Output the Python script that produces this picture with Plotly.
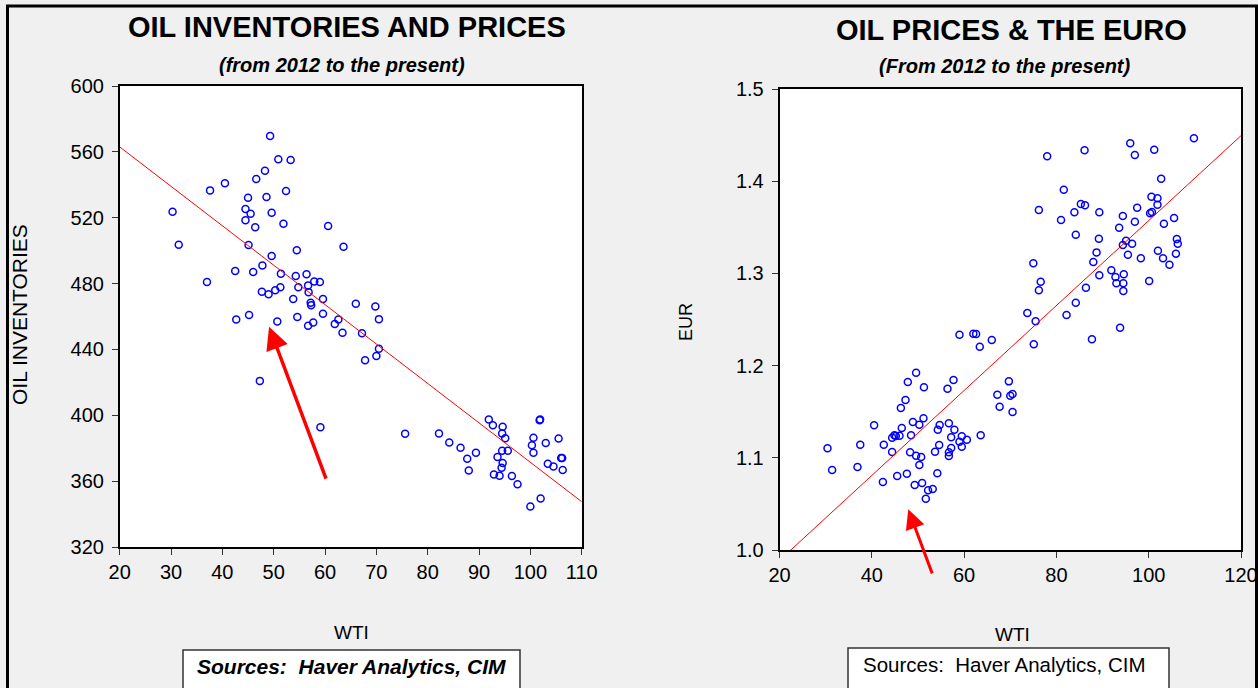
import plotly.graph_objects as go

W, H = 1258, 688

# ---------------- data ----------------
inv_wti = [49.3, 50.9, 53.3, 48.3, 46.6, 40.5, 37.6, 52.4, 45.0, 48.6, 30.3, 44.5, 45.5, 49.6, 44.5,
           51.9, 46.4, 60.6, 31.5, 45.1, 63.6, 54.5, 49.6, 47.8, 42.5, 46.0, 51.4, 54.3, 56.4, 37.0,
           57.9, 59.0, 56.7, 51.3, 54.8, 50.3, 47.7, 49.0, 56.8, 53.8, 59.6, 57.2, 57.3, 59.6, 42.7,
           45.2, 54.6, 62.6, 50.7, 66.0, 69.8, 70.5, 56.7, 57.7, 61.9, 63.4, 67.2, 70.5, 70.0, 67.8,
           47.3, 59.1, 75.6, 82.2, 84.2, 86.4, 89.4, 87.7, 88.0, 91.9, 92.7, 94.6, 94.5, 95.1, 94.5,
           95.6, 93.6, 94.6, 94.4, 92.9, 94.0, 96.4, 97.5, 101.9, 101.8, 100.6, 100.3, 103.0, 105.5,
           100.6, 103.4, 104.5, 106.0, 106.2, 106.3, 102.0, 100.0]
inv_level = [569.6, 555.5, 555.0, 548.5, 543.5, 540.9, 536.6, 536.2, 532.1, 532.6, 523.6, 525.3, 522.4,
             523.0, 518.4, 516.4, 514.2, 514.9, 503.6, 503.4, 502.4, 500.2, 496.7, 491.0, 487.6, 487.0,
             486.0, 484.6, 485.6, 480.9, 481.3, 480.9, 478.9, 477.7, 477.7, 476.0, 475.0, 473.5, 474.8,
             470.6, 470.6, 468.3, 466.9, 461.7, 458.2, 460.9, 459.7, 458.2, 457.0, 467.7, 466.1, 458.4,
             454.4, 456.4, 455.4, 450.1, 449.8, 440.4, 436.0, 433.4, 420.9, 392.8, 388.8, 389.0, 383.5,
             380.3, 377.3, 373.6, 366.5, 397.5, 394.0, 393.0, 389.0, 386.1, 378.5, 378.5, 374.6, 371.0,
             368.1, 364.1, 363.3, 363.1, 358.1, 397.5, 397.0, 386.3, 381.8, 383.2, 385.9, 377.2, 370.5,
             368.9, 374.0, 374.0, 366.7, 349.5, 344.6]
inv_fit_x = [20, 110]
inv_fit_y = [563.0, 347.5]

eur_wti = [109.8, 96.0, 86.1, 101.2, 78.0, 97.0, 102.7, 81.6, 100.6, 101.9, 101.9, 85.3, 86.2, 76.2, 83.9,
           89.3, 97.5, 100.3, 100.7, 94.4, 81.0, 97.0, 105.5, 103.3, 93.6, 84.2, 89.2, 106.1, 106.3, 95.1,
           94.4, 96.4, 88.7, 102.0, 95.5, 105.9, 103.1, 98.3, 104.5, 88.0, 75.0, 91.9, 89.3, 92.8, 94.6,
           93.0, 94.5, 100.1, 76.6, 76.2, 86.4, 94.5, 84.2, 73.7, 82.2, 75.5, 93.8, 87.7, 75.1, 59.0,
           62.0, 62.6, 66.0, 63.4, 49.6, 47.8, 57.7, 51.3, 56.4, 69.7, 67.2, 70.0, 70.5, 47.3, 46.3,
           67.7, 70.5, 51.2, 48.9, 50.3, 40.5, 46.5, 54.7, 56.7, 54.3, 57.9, 44.4, 44.9, 45.2, 46.0,
           48.5, 57.2, 59.5, 60.6, 59.0, 63.6, 30.4, 37.5, 42.6, 54.6, 59.5, 57.2, 44.4, 48.3, 53.7,
           56.7, 56.7, 49.6, 50.7, 50.3, 31.4, 36.9, 54.2, 47.6, 45.5, 42.4, 50.9, 49.3, 52.2, 53.2, 51.7]
eur_rate = [1.4465, 1.4411, 1.4335, 1.4342, 1.4270, 1.4284, 1.4027, 1.3908, 1.3832, 1.3814, 1.3745, 1.3753,
            1.3739, 1.3688, 1.3663, 1.3663, 1.3713, 1.3652, 1.3666, 1.3623, 1.3579, 1.3560, 1.3601, 1.3539,
            1.3496, 1.3420, 1.3376, 1.3373, 1.3322, 1.3355, 1.3308, 1.3322, 1.3228, 1.3246, 1.3203, 1.3214,
            1.3164, 1.3164, 1.3094, 1.3124, 1.3109, 1.3034, 1.2979, 1.2961, 1.2990, 1.2893, 1.2893, 1.2918,
            1.2910, 1.2817, 1.2845, 1.2809, 1.2682, 1.2570, 1.2549, 1.2480, 1.2411, 1.2285, 1.2231, 1.2335,
            1.2346, 1.2343, 1.2278, 1.2205, 1.1923, 1.1822, 1.1844, 1.1764, 1.1749, 1.1829, 1.1684, 1.1673,
            1.1692, 1.1627, 1.1540, 1.1554, 1.1497, 1.1429, 1.1388, 1.1359, 1.1352, 1.1323, 1.1356, 1.1374,
            1.1305, 1.1305, 1.1218, 1.1244, 1.1236, 1.1240, 1.1244, 1.1222, 1.1233, 1.1196, 1.1175, 1.1244,
            1.1103, 1.1142, 1.1142, 1.1139, 1.1120, 1.1106, 1.1063, 1.1060, 1.1066, 1.1060, 1.1020, 1.1023,
            1.1009, 1.0922, 1.0868, 1.0900, 1.0832, 1.0828, 1.0803, 1.0738, 1.0727, 1.0705, 1.0648, 1.0662,
            1.0556]
eur_fit_x = [20, 120]
eur_fit_y = [0.9887, 1.4494]

inv_ticks = [320, 360, 400, 440, 480, 520, 560, 600]
inv_xticks = [20, 30, 40, 50, 60, 70, 80, 90, 100, 110]
eur_ticks = [1.0, 1.1, 1.2, 1.3, 1.4, 1.5]
eur_xticks = [20, 40, 60, 80, 100, 120]

# ---------------- helpers ----------------
def px(x):
    return x / W

def py(y):
    return 1 - y / H

SANS = "Liberation Sans, Arial"

fig = go.Figure()

marker = dict(symbol="circle-open", size=7, color="#0000FF", line=dict(width=1.5, color="#0000FF"))

fig.add_trace(go.Scatter(x=inv_wti, y=inv_level, mode="markers", marker=marker,
                         xaxis="x", yaxis="y", showlegend=False))
fig.add_trace(go.Scatter(x=inv_fit_x, y=inv_fit_y, mode="lines", line=dict(color="#FF0000", width=1),
                         xaxis="x", yaxis="y", showlegend=False))
fig.add_trace(go.Scatter(x=eur_wti, y=eur_rate, mode="markers", marker=marker,
                         xaxis="x2", yaxis="y2", showlegend=False))
fig.add_trace(go.Scatter(x=eur_fit_x, y=eur_fit_y, mode="lines", line=dict(color="#FF0000", width=1),
                         xaxis="x2", yaxis="y2", showlegend=False))

axis_common = dict(showline=True, mirror=True, linecolor="black", linewidth=1.5,
                   ticks="outside", ticklen=6, tickcolor="#333333", tickwidth=1,
                   showgrid=False, zeroline=False, automargin=False,
                   tickfont=dict(family=SANS, size=20, color="black"))

fig.update_layout(
    width=W, height=H,
    margin=dict(l=0, r=0, t=0, b=0, pad=0, autoexpand=False),
    showlegend=False,
    paper_bgcolor="#F0F0F0",
    plot_bgcolor="white",
    xaxis=dict(domain=[px(119.7), px(581.7)], range=[20, 110], tickvals=inv_xticks,
               anchor="y", **axis_common),
    yaxis=dict(domain=[py(547), py(86)], range=[320, 600], tickvals=inv_ticks,
               anchor="x", ticklabelstandoff=4, **axis_common),
    xaxis2=dict(domain=[px(779.5), px(1241)], range=[20, 120], tickvals=eur_xticks,
                anchor="y2", **axis_common),
    yaxis2=dict(domain=[py(550), py(89)], range=[1.0, 1.5], tickvals=eur_ticks,
                ticktext=[f"{v:.1f}" for v in eur_ticks], anchor="x2", ticklabelstandoff=4,
                **axis_common),
)

ann = []
# titles
ann.append(dict(text="<b>OIL INVENTORIES AND PRICES</b>", x=px(347), y=py(27), xref="paper", yref="paper",
                showarrow=False, font=dict(family=SANS, size=29, color="black"),
                xanchor="center", yanchor="middle"))
ann.append(dict(text="<b><i>(from 2012 to the present)</i></b>", x=px(342), y=py(65), xref="paper",
                yref="paper", showarrow=False, font=dict(family=SANS, size=20, color="black"),
                xanchor="center", yanchor="middle"))
ann.append(dict(text="<b>OIL PRICES &amp; THE EURO</b>", x=px(1011), y=py(30), xref="paper", yref="paper",
                showarrow=False, font=dict(family=SANS, size=29, color="black"),
                xanchor="center", yanchor="middle"))
ann.append(dict(text="<b><i>(From 2012 to the present)</i></b>", x=px(1005), y=py(66), xref="paper",
                yref="paper", showarrow=False, font=dict(family=SANS, size=20, color="black"),
                xanchor="center", yanchor="middle"))
# axis titles
ann.append(dict(text="OIL INVENTORIES", x=px(19), y=py(315), xref="paper", yref="paper", textangle=-90,
                showarrow=False, font=dict(family=SANS, size=21, color="black"),
                xanchor="center", yanchor="middle"))
ann.append(dict(text="EUR", x=px(686), y=py(322), xref="paper", yref="paper", textangle=-90,
                showarrow=False, font=dict(family=SANS, size=18, color="black"),
                xanchor="center", yanchor="middle"))
ann.append(dict(text="WTI", x=px(351), y=py(632), xref="paper", yref="paper",
                showarrow=False, font=dict(family=SANS, size=19, color="black"),
                xanchor="center", yanchor="middle"))
ann.append(dict(text="WTI", x=px(1012), y=py(634), xref="paper", yref="paper",
                showarrow=False, font=dict(family=SANS, size=19, color="black"),
                xanchor="center", yanchor="middle"))
# sources
ann.append(dict(text="<b><i>Sources:  Haver Analytics, CIM</i></b>", x=px(351), y=py(666), xref="paper",
                yref="paper", showarrow=False, font=dict(family=SANS, size=21, color="black"),
                xanchor="center", yanchor="middle"))
ann.append(dict(text="Sources:  Haver Analytics, CIM", x=px(1004), y=py(664), xref="paper",
                yref="paper", showarrow=False, font=dict(family=SANS, size=20.5, color="black"),
                xanchor="center", yanchor="middle"))
# arrows
ann.append(dict(text="", x=49.1, y=453.8, ax=60.3, ay=360.6, xref="x", yref="y", axref="x", ayref="y",
                showarrow=True, arrowhead=2, arrowsize=1.3, arrowwidth=3.5, arrowcolor="#FF0000"))
ann.append(dict(text="", x=47.9, y=1.0441, ax=53.2, ay=0.973, xref="x2", yref="y2", axref="x2", ayref="y2",
                showarrow=True, arrowhead=2, arrowsize=1.3, arrowwidth=3, arrowcolor="#FF0000"))
fig.update_layout(annotations=ann)

shapes = [
    dict(type="rect", xref="paper", yref="paper", x0=px(7.5), x1=px(1256.5), y0=py(700), y1=py(6),
         line=dict(color="black", width=3), fillcolor="rgba(0,0,0,0)", layer="above"),
    dict(type="rect", xref="paper", yref="paper", x0=px(183), x1=px(520), y0=py(700), y1=py(650),
         line=dict(color="#333333", width=1.5), fillcolor="white", layer="below"),
    dict(type="rect", xref="paper", yref="paper", x0=px(848), x1=px(1169), y0=py(700), y1=py(648),
         line=dict(color="#333333", width=1.5), fillcolor="white", layer="below"),
]
fig.update_layout(shapes=shapes)

fig.write_html("out.html", config={"displayModeBar": False},
               post_script="document.body.style.margin='0';document.body.style.overflow='hidden';")
